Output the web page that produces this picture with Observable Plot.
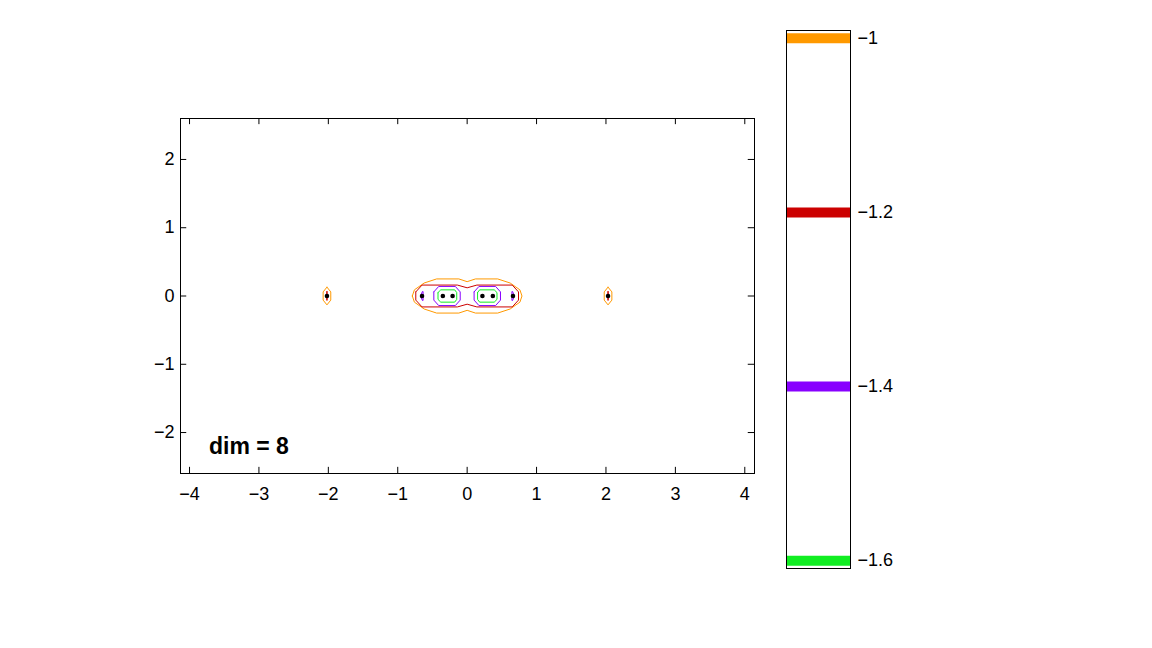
<!DOCTYPE html>
<html><head><meta charset="utf-8">
<script src="https://cdn.jsdelivr.net/npm/d3@7"></script>
<script src="https://cdn.jsdelivr.net/npm/@observablehq/plot@0.6"></script>
<style>
body{margin:0;background:#fff;}
#wrap{position:relative;width:1152px;height:648px;overflow:hidden;background:#fff;}
#wrap svg{position:absolute;left:0;top:0;}
</style></head><body><div id="wrap"></div>
<script>
// Eigenvalues (real axis) of the dim = 8 matrix
const eigenReal = [-2.02, -0.65, -0.35, -0.21, 0.22, 0.37, 0.66, 2.03];
const eigenImag = [0, 0, 0, 0, 0, 0, 0, 0];

// Contour levels (log10 epsilon) and their colours
const levels = [-1, -1.2, -1.4, -1.6];
const levelColors = ["#ff9900", "#cc0000", "#8800ff", "#11ee22"];

const xTicks = [-4, -3, -2, -1, 0, 1, 2, 3, 4];
const yTicks = [-2, -1, 0, 1, 2];

const orangeCenter = [[-0.79,0],[-0.76,0.09],[-0.62,0.19],[-0.44,0.25],[-0.12,0.25],[0,0.21],[0.12,0.25],[0.44,0.25],[0.62,0.19],[0.76,0.09],[0.79,0],[0.76,-0.09],[0.62,-0.19],[0.44,-0.25],[0.12,-0.25],[0,-0.21],[-0.12,-0.25],[-0.44,-0.25],[-0.62,-0.19],[-0.76,-0.09]];
const orangeLeft = [[-2.02,0.13],[-1.965,0.06],[-1.965,-0.06],[-2.02,-0.13],[-2.075,-0.06],[-2.075,0.06]];
const orangeRight = [[2.03,0.13],[2.085,0.06],[2.085,-0.06],[2.03,-0.13],[1.975,-0.06],[1.975,0.06]];
const redCenter = [[-0.74,0.06],[-0.65,0.16],[-0.14,0.16],[0,0.12],[0.14,0.16],[0.65,0.16],[0.74,0.06],[0.74,-0.06],[0.65,-0.16],[0.14,-0.16],[0,-0.12],[-0.14,-0.16],[-0.65,-0.16],[-0.74,-0.06]];
const redLeft = [[-2.02,0.065],[-2.015,0],[-2.02,-0.065],[-2.025,0]];
const redRight = [[2.03,0.065],[2.035,0],[2.03,-0.065],[2.025,0]];
const purpleLeftPair = [[-0.48,0.06],[-0.41,0.14],[-0.17,0.14],[-0.10,0.06],[-0.10,-0.06],[-0.17,-0.14],[-0.41,-0.14],[-0.48,-0.06]];
const purpleRightPair = [[0.10,0.06],[0.17,0.14],[0.41,0.14],[0.48,0.06],[0.48,-0.06],[0.41,-0.14],[0.17,-0.14],[0.10,-0.06]];
const purpleLeftDot = [[-0.67,0],[-0.645,0.065],[-0.635,0.065],[-0.635,-0.065],[-0.645,-0.065]];
const purpleRightDot = [[0.68,0],[0.655,0.065],[0.645,0.065],[0.645,-0.065],[0.655,-0.065]];
const greenLeftPair = [[-0.42,0.05],[-0.38,0.09],[-0.18,0.09],[-0.15,0.05],[-0.15,-0.05],[-0.18,-0.09],[-0.38,-0.09],[-0.42,-0.05]];
const greenRightPair = [[0.15,0.05],[0.18,0.09],[0.39,0.09],[0.43,0.05],[0.43,-0.05],[0.39,-0.09],[0.18,-0.09],[0.15,-0.05]];

const annotation = [{label: "dim = 8", x: -3.72, y: -2.2}];

const contourSets = [
  {level: -1, polys: [orangeCenter, orangeLeft, orangeRight]},
  {level: -1.2, polys: [redCenter, redLeft, redRight]},
  {level: -1.4, polys: [purpleLeftPair, purpleRightPair, purpleLeftDot, purpleRightDot]},
  {level: -1.6, polys: [greenLeftPair, greenRightPair]}
];
const contourRows = [];
contourSets.forEach((s, si) => s.polys.forEach((p, pi) => {
  [...p, p[0]].forEach(([x, y]) => contourRows.push({x, y, level: s.level, id: si + "-" + pi}));
}));
const eigen = eigenReal.map((re, i) => ({re, im: eigenImag[i]}));

const xDom = [-4.13, 4.14], yDom = [-2.6, 2.6];
const font = {fontFamily: "'Liberation Sans', Arial, Helvetica, sans-serif", fontSize: "18px", background: "transparent", color: "black"};
const colorOpt = {type: "ordinal", domain: levels, range: levelColors};
const fmt = d3.format("~g");

const main = Plot.plot({
  width: 1152, height: 648,
  marginLeft: 180, marginRight: 398, marginTop: 118, marginBottom: 175,
  x: {domain: xDom}, y: {domain: yDom},
  color: colorOpt,
  style: font,
  marks: [
    Plot.line(contourRows, {x: "x", y: "y", z: "id", stroke: "level", strokeWidth: 1, curve: "linear"}),
    Plot.dot(eigen, {x: "re", y: "im", r: 2.3, fill: "black", stroke: "none"}),
    Plot.text(annotation, {x: "x", y: "y", text: "label", textAnchor: "start", fontWeight: "bold", fontSize: 23}),
    Plot.ruleX(xTicks, {x: d => d, y1: yDom[0], y2: yDom[0] + 0.09, stroke: "black"}),
    Plot.ruleX(xTicks, {x: d => d, y1: yDom[1], y2: yDom[1] - 0.09, stroke: "black"}),
    Plot.ruleY(yTicks, {y: d => d, x1: xDom[0], x2: xDom[0] + 0.09, stroke: "black"}),
    Plot.ruleY(yTicks, {y: d => d, x1: xDom[1], x2: xDom[1] - 0.09, stroke: "black"}),
    Plot.frame({stroke: "black", strokeWidth: 1}),
    Plot.axisX(xTicks, {tickSize: 0, tickPadding: 14, label: null, tickFormat: fmt}),
    Plot.axisY(yTicks, {tickSize: 0, tickPadding: 6, label: null, tickFormat: fmt})
  ]
});

const cbar = Plot.plot({
  width: 1152, height: 648,
  marginLeft: 786, marginRight: 302, marginTop: 30, marginBottom: 80,
  x: {domain: [0, 1], axis: null},
  y: {domain: [-1.609, -0.991]},
  color: colorOpt,
  style: font,
  marks: [
    Plot.ruleY(levels, {y: d => d, stroke: d => d, strokeWidth: 10}),
    Plot.frame({stroke: "black", strokeWidth: 1}),
    Plot.axisY(levels, {anchor: "right", tickSize: 0, tickPadding: 7, label: null, tickFormat: fmt})
  ]
});

const wrap = document.getElementById("wrap");
wrap.appendChild(main);
wrap.appendChild(cbar);
</script></body></html>
